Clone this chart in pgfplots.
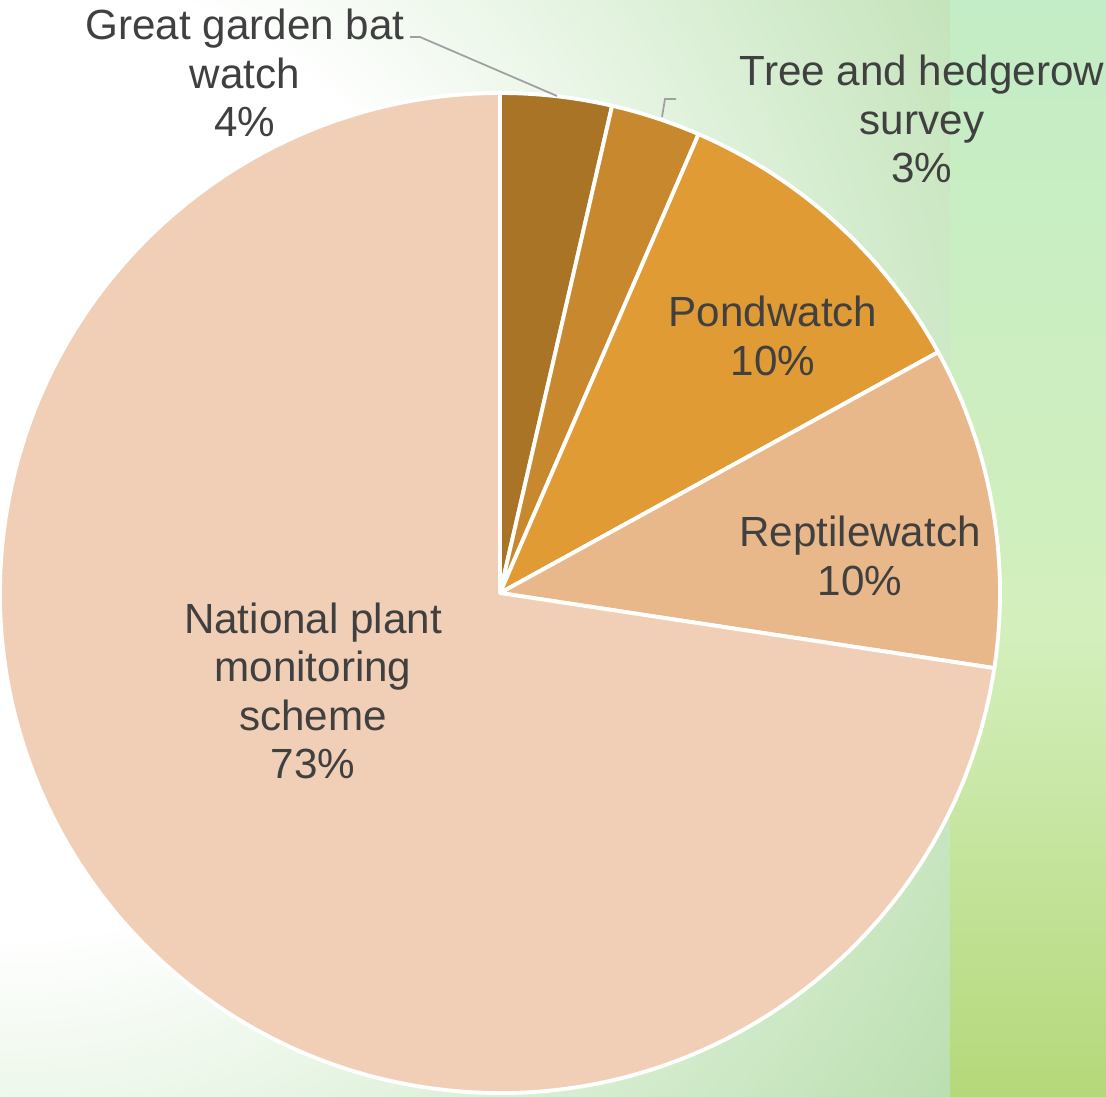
\documentclass[border=0pt]{standalone}
\usepackage{pgfplots}
\pgfplotsset{compat=1.18}
\usepackage{pgfplotstable}
\usepackage{fontspec}
\setmainfont{Liberation Sans}

\definecolor{txt}{HTML}{404040}
\definecolor{leader}{HTML}{A0A0A0}
\definecolor{bggreen}{HTML}{B6DCAA}
\definecolor{bgmid}{HTML}{D6EDD0}
\definecolor{striptop}{HTML}{C3EDC6}
\definecolor{stripmid}{HTML}{D3EFBC}
\definecolor{stripbot}{HTML}{B5D87A}
\definecolor{slice0}{HTML}{A97425}
\definecolor{slice1}{HTML}{C8892E}
\definecolor{slice2}{HTML}{E09B35}
\definecolor{slice3}{HTML}{E9B88A}
\definecolor{slice4}{HTML}{F0CFB6}

% 25bp = radius of the shaded circle
\pgfdeclareradialshading{bgshade}{\pgfpoint{0bp}{0bp}}{%
    color(0bp)=(white); color(10bp)=(white); color(18bp)=(bgmid);
    color(25bp)=(bggreen); color(50bp)=(bggreen)}
% 25bp = bottom, 75bp = top of the path
\pgfdeclareverticalshading{stripshade}{100bp}{%
    color(0bp)=(stripbot); color(25bp)=(stripbot); color(46bp)=(stripmid);
    color(75bp)=(striptop); color(100bp)=(striptop)}

\tikzset{lbl/.style={font=\fontsize{12}{13.8}\selectfont, text=txt, align=center, inner sep=0pt}}

% share in percent, clockwise from 12 o'clock
\pgfplotstableread{
value color
3.6   slice0
2.9   slice1
10.5  slice2
10.4  slice3
72.6  slice4
}\pietable

\begin{document}
\begin{tikzpicture}
\begin{axis}[
    x=5cm, y=5cm,
    xmin=-1, xmax=1.212,
    ymin=-1.006, ymax=1.186,
    hide axis,
    clip=false,
]
    % background
    \begin{scope}
        \clip (axis cs:-1,-1.006) rectangle (axis cs:1.212,1.186);
        \fill[bggreen] (axis cs:-1,-1.006) rectangle (axis cs:1.212,1.186);
        \shade[shading=bgshade] (axis cs:-1,0.28) circle (12cm);
        \shade[shading=stripshade]
            (axis cs:0.9,-1.006) rectangle (axis cs:1.212,1.186);
    \end{scope}

    % wedges
    \def\cum{0}
    \pgfplotsforeachungrouped \i in {0,...,4}{
        \pgfplotstablegetelem{\i}{value}\of\pietable
        \let\v\pgfplotsretval
        \pgfplotstablegetelem{\i}{color}\of\pietable
        \let\c\pgfplotsretval
        \pgfmathsetmacro\a{90-3.6*\cum}
        \pgfmathsetmacro\cum{\cum+\v}
        \pgfmathsetmacro\b{90-3.6*\cum}
        \edef\temp{\noexpand\fill[fill=\c, draw=white, line width=1.1pt, line join=round]
            (axis cs:0,0) -- ++(\a:5cm) arc[start angle=\a, end angle=\b, radius=5cm] -- cycle;}
        \temp
    }

    % leader lines
    \draw[leader, line width=0.5pt] (axis cs:-0.18,1.112) -- (axis cs:-0.16,1.112) -- (axis cs:0.114,0.994);
    \draw[leader, line width=0.5pt] (axis cs:0.324,0.952) -- (axis cs:0.33,0.988) -- (axis cs:0.352,0.988);

    % labels
    \node[lbl] at (axis cs:-0.51,1.04) {Great garden bat\\watch\\4\%};
    \node[lbl] at (axis cs:0.844,0.948) {Tree and hedgerow\\survey\\3\%};
    \node[lbl] at (axis cs:0.546,0.514) {Pondwatch\\10\%};
    \node[lbl] at (axis cs:0.72,0.074) {Reptilewatch\\10\%};
    \node[lbl] at (axis cs:-0.374,-0.196) {National plant\\monitoring\\scheme\\73\%};
\end{axis}
\pgfresetboundingbox
\path (0,0) rectangle (11.06cm,10.96cm);
\end{tikzpicture}
\end{document}
